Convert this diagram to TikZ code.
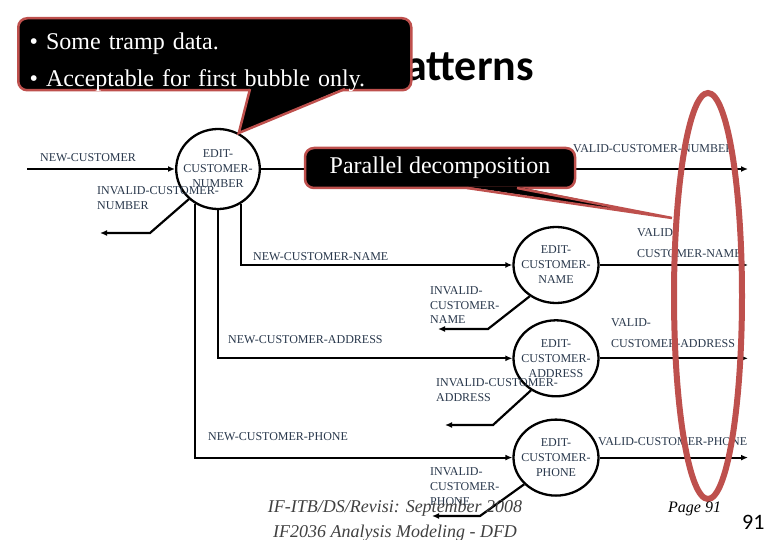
\documentclass[tikz,border=0pt]{standalone}
\usepackage{fontspec}
\setmainfont{Liberation Serif}
\newfontfamily\titlefont{Carlito}
\usetikzlibrary{shapes.geometric, arrows.meta, positioning, calc}

\definecolor{ink}{RGB}{40,55,75}
\definecolor{note}{RGB}{190,80,77}
\definecolor{foot}{RGB}{64,64,64}

\newcommand{\dfdfont}{\fontsize{12}{15}\selectfont}

\begin{document}
\begin{tikzpicture}[x=1pt, y=-1pt,
    proc/.style={draw, ellipse, line width=2.3pt, minimum width=85, minimum height=76, inner sep=-5pt, align=center, font=\dfdfont, text=ink},
    flow/.style={-{Latex[length=7pt,width=6pt]}, line width=2.2pt},
    lbl/.style={anchor=base west, inner sep=0, align=left, font=\dfdfont, text=ink},
    notebox/.style={fill=black, draw=note, line width=2.5pt, rounded corners=9, text=white},
    tip/.style={draw=note, line width=2.5pt}
]
\useasboundingbox (0,0) rectangle (780,540);

% title, mostly under the first note
\node[anchor=base west, inner sep=0, font=\titlefont\bfseries\fontsize{44}{50}\selectfont] (title) at (405,81) {atterns};

% first bubble
\node[proc, minimum width=82, minimum height=80] (ecn) at (218,169) {EDIT-\\CUSTOMER-\\NUMBER};
\coordinate (src) at (27,169);
\coordinate (vnum) at (748,169);
\coordinate (inum) at (100,233);
\draw[flow] (src) -- (ecn);
\draw[flow] (ecn) -- (vnum);
\draw[flow] (ecn.-134) -- ($(inum)+(50,0)$) -- (inum);

% parallel bubbles
\node[proc] (ecname) at (556,265) {EDIT-\\CUSTOMER-\\NAME};
\node[proc, below=15pt of ecname] (ecaddr) {EDIT-\\CUSTOMER-\\ADDRESS};
\node[proc, below=21pt of ecaddr] (ecphone) {EDIT-\\CUSTOMER-\\PHONE};
\draw[flow] (ecn.-57) |- (ecname);
\draw[flow] (ecn.south) |- (ecaddr);
\draw[flow] (ecn.-123) |- (ecphone);

\coordinate (vname) at (ecname -| vnum);
\coordinate (vaddr) at (ecaddr -| vnum);
\coordinate (vphone) at (ecphone -| vnum);
\draw[flow] (ecname) -- (vname);
\draw[flow] (ecaddr) -- (vaddr);
\draw[flow] (ecphone) -- (vphone);

\coordinate (iname) at (438,329);
\coordinate (iaddr) at (445,425);
\coordinate (iphone) at (432,516);
\draw[flow] (ecname.-130) -- ($(iname)+(50,0)$) -- (iname);
\draw[flow] (ecaddr.-128) -- ($(iaddr)+(48,0)$) -- (iaddr);
\draw[flow] (ecphone.-140) -- ($(iphone)+(48,0)$) -- (iphone);

% flow labels (base = last line)
\node[lbl] (lnew) at (40,162) {NEW-CUSTOMER};
\node[lbl] (linum) at (97,210) {INVALID-CUSTOMER-\\NUMBER};
\node[lbl] (lvnum) at (573,153) {VALID-CUSTOMER-NUMBER};
\node[lbl] (lnname) at (253,261) {NEW-CUSTOMER-NAME};
\node[lbl, font=\fontsize{12}{14.5}\selectfont] (liname) at (430,324) {INVALID-\\CUSTOMER-\\NAME};
\node[lbl, font=\fontsize{12}{21}\selectfont] (lvname) at (637,258) {VALID-\\CUSTOMER-NAME};
\node[lbl] (lnaddr) at (228,344) {NEW-CUSTOMER-ADDRESS};
\node[lbl, font=\fontsize{12}{14}\selectfont] (liaddr) at (436,401) {INVALID-CUSTOMER-\\ADDRESS};
\node[lbl, font=\fontsize{12}{21}\selectfont] (lvaddr) at (611,348) {VALID-\\CUSTOMER-ADDRESS};
\node[lbl] (lnphone) at (208,440) {NEW-CUSTOMER-PHONE};
\node[lbl] (liphone) at (430,505) {INVALID-\\CUSTOMER-\\PHONE};
\node[lbl] (lvphone) at (598,445) {VALID-CUSTOMER-PHONE};

% notes
\node[notebox, anchor=north west, text width=370, inner xsep=11.5, inner ysep=0, text height=31, text depth=41, align=left, font=\fontsize{24}{37}\selectfont] (tramp) at (17,17) {\textbullet{} Some tramp data.\\\textbullet{} Acceptable for first bubble only.};
\fill (250,87.6) -- (ecn.60) -- (345,87.6) -- cycle;
\draw[tip] (250,89) -- (ecn.60) -- (345,89);

\node[notebox, minimum width=270, minimum height=40, font=\fontsize{24}{29}\selectfont] (paradec) at (440,168) {Parallel decomposition};
\coordinate (paratip) at (672,218);
\fill (467,186.6) -- (paratip) -- (517,186.6) -- cycle;
\draw[tip] (467,188) -- (paratip) -- (517,188);

\draw[note, line width=6pt] (708,296) ellipse [x radius=34pt, y radius=203pt];

% footer
\node[anchor=base, inner sep=0, align=center, text=foot, font=\itshape\fontsize{18}{25}\selectfont] (footer) at (395,537) {IF-ITB/DS/Revisi: September 2008\\IF2036 Analysis Modeling - DFD};
\node[anchor=base west, inner sep=0, font=\itshape\fontsize{16}{19}\selectfont] (page) at (668,512) {Page 91};
\node[anchor=base west, inner sep=0, font=\titlefont\fontsize{22}{26}\selectfont] (slideno) at (742,529) {91};
\end{tikzpicture}
\end{document}
